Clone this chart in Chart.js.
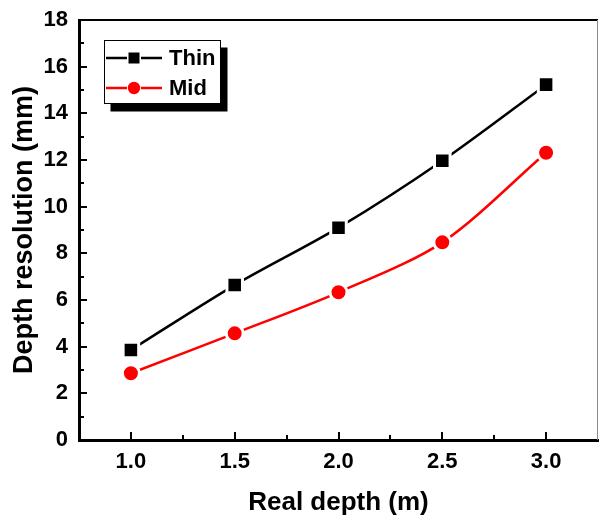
<!DOCTYPE html>
<html><head><meta charset="utf-8">
<script src="https://cdn.jsdelivr.net/npm/chart.js@4/dist/chart.umd.min.js"></script>
<style>html,body{margin:0;padding:0;background:#fff}#wrap{width:599px;height:519px;position:relative}</style>
</head><body><div id="wrap"><canvas id="c"></canvas></div>
<script>
// ---- data ----
const depths = [1.0, 1.5, 2.0, 2.5, 3.0];
const thinValues = [3.86, 6.64, 9.10, 11.97, 15.23];
const midValues = [2.86, 4.57, 6.33, 8.47, 12.31];
const seriesNames = ['Thin', 'Mid'];
const xTickValues = [1.0, 1.5, 2.0, 2.5, 3.0];
const xMinorValues = [1.25, 1.75, 2.25, 2.75];
const yTickValues = [0, 2, 4, 6, 8, 10, 12, 14, 16, 18];
const yMinorValues = [1, 3, 5, 7, 9, 11, 13, 15, 17];
const xTitle = 'Real depth (m)';
const yTitle = 'Depth resolution (mm)';

const FONT = '"Liberation Sans", Arial, Helvetica, sans-serif';

function pts(vals){ return depths.map((d,i)=>({x:d, y:vals[i]})); }

const framePlugin = {
  id: 'frame',
  afterDraw(chart){
    const {ctx, chartArea:a, scales:{x, y}} = chart;
    ctx.save();
    // top frame
    ctx.strokeStyle = '#000'; ctx.lineWidth = 2;
    ctx.beginPath(); ctx.moveTo(a.left, a.top); ctx.lineTo(a.right, a.top); ctx.stroke();
    // right frame
    ctx.strokeStyle = '#8a8a8a'; ctx.lineWidth = 1;
    ctx.beginPath(); ctx.moveTo(a.right - 0.5, a.top); ctx.lineTo(a.right - 0.5, a.bottom); ctx.stroke();
    // inward ticks
    ctx.strokeStyle = '#000'; ctx.lineWidth = 2;
    ctx.beginPath();
    xTickValues.forEach(v => { const px = Math.round(x.getPixelForValue(v)); ctx.moveTo(px, a.bottom); ctx.lineTo(px, a.bottom - 8); });
    xMinorValues.forEach(v => { const px = Math.round(x.getPixelForValue(v)); ctx.moveTo(px, a.bottom); ctx.lineTo(px, a.bottom - 5); });
    yTickValues.forEach(v => { const py = Math.round(y.getPixelForValue(v)); ctx.moveTo(a.left, py); ctx.lineTo(a.left + 8, py); });
    yMinorValues.forEach(v => { const py = Math.round(y.getPixelForValue(v)); ctx.moveTo(a.left, py); ctx.lineTo(a.left + 5, py); });
    ctx.stroke();

    // legend
    const bx = 104.5, by = 40.5, bw = 116, bh = 63;
    ctx.fillStyle = '#000';
    ctx.fillRect(bx + 6, by + 7, bw + 1, bh + 1);
    ctx.fillStyle = '#fff';
    ctx.fillRect(bx, by, bw, bh);
    ctx.strokeStyle = '#000'; ctx.lineWidth = 1;
    ctx.strokeRect(bx, by, bw, bh);
    const rows = [58, 88];
    chart.data.datasets.forEach((ds, i) => {
      const ry = rows[i];
      ctx.strokeStyle = ds.borderColor; ctx.lineWidth = 2.5;
      ctx.beginPath(); ctx.moveTo(106, ry); ctx.lineTo(127, ry); ctx.moveTo(141, ry); ctx.lineTo(162, ry); ctx.stroke();
      ctx.fillStyle = ds.borderColor;
      if (ds.pointStyle === 'rect') { ctx.fillRect(134 - 5.5, ry - 5.5, 11, 11); }
      else { ctx.beginPath(); ctx.arc(134, ry, 6.2, 0, Math.PI * 2); ctx.fill(); }
      ctx.fillStyle = '#000';
      ctx.font = 'bold 22px ' + FONT;
      ctx.textAlign = 'left'; ctx.textBaseline = 'middle';
      ctx.fillText(ds.label, 169, ry + 1);
    });
    ctx.restore();
  }
};

new Chart(document.getElementById('c'), {
  type: 'line',
  data: {
    datasets: [
      { label: seriesNames[0], data: pts(thinValues), borderColor: '#000000', backgroundColor: '#000000',
        borderWidth: 2.5, tension: 0.3, pointStyle: 'rect', pointRadius: 11, pointHoverRadius: 11,
        pointBackgroundColor: '#000000', pointBorderColor: '#ffffff', pointBorderWidth: 3, fill: false },
      { label: seriesNames[1], data: pts(midValues), borderColor: '#ff0000', backgroundColor: '#ff0000',
        borderWidth: 2.5, tension: 0.3, pointStyle: 'circle', pointRadius: 8.5, pointHoverRadius: 8.5,
        pointBackgroundColor: '#ff0000', pointBorderColor: '#ffffff', pointBorderWidth: 3, fill: false }
    ]
  },
  options: {
    responsive: true, maintainAspectRatio: false, animation: false,
    layout: { autoPadding: false, padding: { top: 20, right: 1, left: 0, bottom: 0 } },
    plugins: { legend: { display: false }, tooltip: { enabled: false } },
    scales: {
      x: {
        type: 'linear', min: 0.75, max: 3.25,
        afterBuildTicks: s => { s.ticks = xTickValues.map(v => ({ value: v })); },
        afterFit: s => { s.height = 79; s.paddingLeft = 0; s.paddingRight = 0; },
        grid: { display: false, drawTicks: false },
        border: { display: true, color: '#000', width: 3 },
        ticks: { color: '#000', padding: 9, font: { family: FONT, size: 22, weight: 'bold' },
                 callback: v => Number(v).toFixed(1), maxRotation: 0 },
        title: { display: true, text: xTitle, color: '#000', padding: { top: 0, bottom: 1 },
                 font: { family: FONT, size: 26, weight: 'bold' } }
      },
      y: {
        min: 0, max: 18,
        afterBuildTicks: s => { s.ticks = yTickValues.map(v => ({ value: v })); },
        afterFit: s => { s.width = 79; s.paddingTop = 0; s.paddingBottom = 0; },
        grid: { display: false, drawTicks: false },
        border: { display: true, color: '#000', width: 3 },
        ticks: { color: '#000', padding: 11, font: { family: FONT, size: 22, weight: 'bold' } },
        title: { display: true, text: yTitle, color: '#000', padding: { top: 8, bottom: 0 },
                 font: { family: FONT, size: 27, weight: 'bold' } }
      }
    }
  },
  plugins: [framePlugin]
});
</script>
</body></html>
